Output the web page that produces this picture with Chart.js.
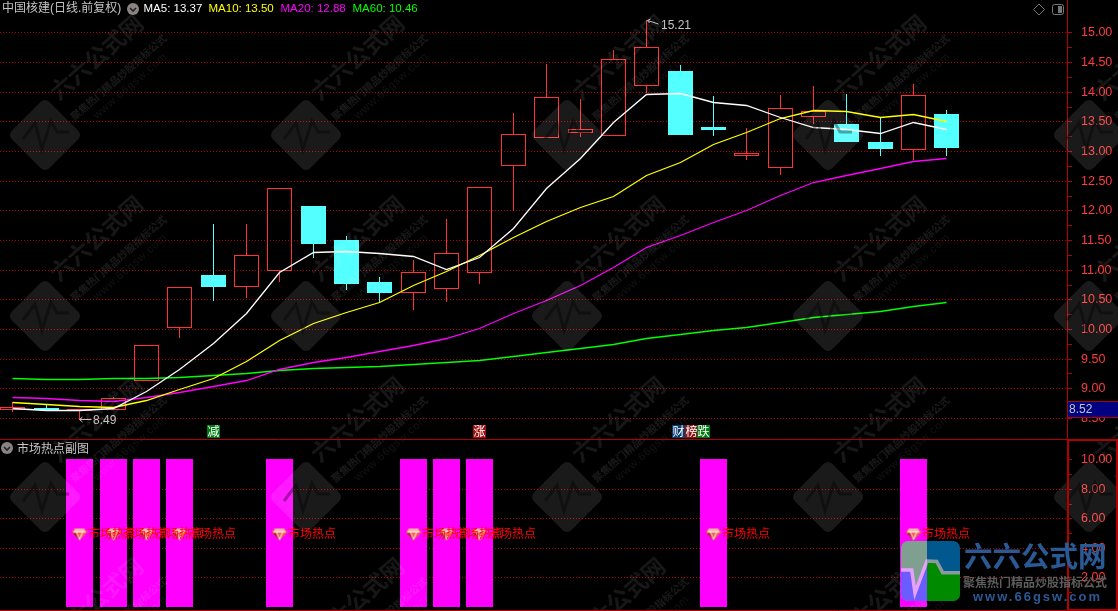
<!DOCTYPE html>
<html><head><meta charset="utf-8">
<style>html,body{margin:0;padding:0;background:#000;overflow:hidden}canvas{display:block}</style>
<script src="https://cdn.jsdelivr.net/npm/chart.js@4"></script>
</head><body><canvas id="c" width="1118" height="611"></canvas>
<script>
// ---------- data ----------
const opens  = [8.64,8.66,8.61,8.63,9.13,10.01,10.91,10.70,10.98,12.07,11.50,10.79,10.61,10.68,10.94,12.75,13.22,13.30,13.26,14.09,14.35,13.41,12.92,12.71,13.58,13.46,13.15,13.02,13.63];
const closes = [8.68,8.63,8.65,8.83,9.73,10.70,10.71,11.24,12.37,11.43,10.76,10.61,10.96,11.28,12.40,13.28,13.92,13.37,14.55,14.75,13.27,13.36,12.97,13.72,13.67,13.16,13.04,13.94,13.05];
const highs  = [8.77,8.74,8.65,8.85,9.73,10.70,11.77,11.77,12.37,12.07,11.57,10.88,11.16,11.85,12.40,13.64,14.47,13.88,14.70,15.21,14.45,13.93,13.39,13.95,14.10,13.96,13.58,14.13,13.69];
const lows   = [8.60,8.63,8.49,8.63,9.13,9.85,10.48,10.53,10.80,11.20,10.66,10.44,10.32,10.46,10.76,11.99,13.22,13.24,13.26,13.98,13.27,13.25,12.85,12.59,13.46,13.16,12.91,12.85,12.91];
const ma5  = [8.67,8.63,8.63,8.67,8.95,9.33,9.76,10.27,10.96,11.30,11.32,11.28,11.23,11.01,11.21,11.70,12.38,12.88,13.49,13.96,13.98,13.83,13.78,13.58,13.41,13.37,13.31,13.49,13.37];
const ma10 = [8.77,8.74,8.70,8.69,8.80,8.99,9.17,9.46,9.81,10.10,10.29,10.46,10.74,10.98,11.25,11.55,11.82,12.06,12.24,12.60,12.82,13.12,13.32,13.56,13.69,13.68,13.58,13.63,13.50];
const ma20 = [8.85,8.84,8.80,8.79,8.85,8.94,9.04,9.14,9.33,9.44,9.53,9.63,9.73,9.85,10.02,10.27,10.49,10.74,11.05,11.38,11.59,11.80,12.01,12.26,12.48,12.60,12.72,12.84,12.88];
const ma60 = [9.17,9.16,9.16,9.17,9.17,9.19,9.22,9.26,9.31,9.34,9.36,9.38,9.41,9.44,9.48,9.54,9.61,9.68,9.75,9.85,9.92,9.98,10.03,10.12,10.20,10.25,10.30,10.39,10.46];
const hotIndex = [2,3,4,5,8,12,13,14,21,27];
const hotBarTop = 10;
const hotLabelLevel = 4.95;
const priceTicks = [15,14.5,14,13.5,13,12.5,12,11.5,11,10.5,10,9.5,9,8.5];
const subLabelTicks = [10,8,6,4,2];
const subGridTicks = [8,6,4,2];
const headerTexts = ["MA5: 13.37","MA10: 13.50","MA20: 12.88","MA60: 10.46"];
const currentPrice = 8.52;
const tagIndex = [6,14,20.33];
const tagChars = [["减"],["涨"],["财","榜","跌"]];
const tagColors = [["#007a10"],["#a01010"],["#0a3c70","#8c1414","#007a10"]];

// ---------- styles ----------
const RED="#ff3232", CYAN="#54ffff", GRID="#b40000", AXIS="#b00000", LABEL="#ff3c3c", GRAY="#c4c4c4";
const CJK="'Liberation Sans','Noto Sans CJK SC',sans-serif";

class SnapScale extends Chart.LinearScale{
  static id='snap';
  static defaults=Chart.LinearScale.defaults;
  getPixelForValue(v){
    const p=super.getPixelForValue(v);
    return this.axis==='x'?Math.floor(p)+0.5:Math.round(p);
  }
}
Chart.register(SnapScale);

const idx=opens.map((_,i)=>i);
const up=i=>closes[i]>=opens[i];
const candleColor=idx.map(i=>up(i)?RED:CYAN);
const bodies=idx.map(i=>({x:i,y:[opens[i],closes[i]]}));
const upperWick=idx.map(i=>({x:i,y:[Math.max(opens[i],closes[i]),highs[i]]}));
const lowerWick=idx.map(i=>({x:i,y:[lows[i],Math.min(opens[i],closes[i])]}));
const line=(a,c,l)=>({type:'line',label:l,data:a.map((v,i)=>({x:i,y:v})),borderColor:c,borderWidth:1.3,pointRadius:0,tension:0,yAxisID:'y',order:1});

// gem sprite
const gem=document.createElement('canvas');gem.width=16;gem.height=13;
(function(){const g=gem.getContext('2d');
  g.fillStyle='#f0605a';g.beginPath();g.moveTo(3.5,1);g.lineTo(12.5,1);g.lineTo(16,4.5);g.lineTo(8,13);g.lineTo(0,4.5);g.closePath();g.fill();
  g.fillStyle='#ffb4a8';g.beginPath();g.moveTo(3.5,1);g.lineTo(12.5,1);g.lineTo(14,4);g.lineTo(2,4);g.closePath();g.fill();
  g.strokeStyle='#fff2e8';g.lineWidth=1;g.beginPath();g.moveTo(2,4.5);g.lineTo(14,4.5);g.moveTo(5,5);g.lineTo(8,12);g.lineTo(11,5);g.stroke();
  g.fillStyle='#a02828';g.beginPath();g.moveTo(1,5.5);g.lineTo(4.5,5.5);g.lineTo(7.5,12);g.closePath();g.fill();
})();

function text(ctx,s,x,y,font,color,align){ctx.font=font;ctx.fillStyle=color;ctx.textAlign=align||'left';ctx.textBaseline='middle';ctx.fillText(s,x,y);}
function rr(ctx,x,y,w,h,r){ctx.beginPath();ctx.roundRect(x,y,w,h,r);}
function chevron(ctx,x,y){ctx.fillStyle='#8c8484';ctx.beginPath();ctx.arc(x,y,6,0,Math.PI*2);ctx.fill();
  ctx.strokeStyle='#222';ctx.lineWidth=1.6;ctx.beginPath();ctx.moveTo(x-3,y-1);ctx.lineTo(x,y+2);ctx.lineTo(x+3,y-1);ctx.stroke();}

const lineNudge={id:'lineNudge',
  beforeDatasetDraw(chart,a){if(chart.getDatasetMeta(a.index).type==='line'){chart.ctx.save();chart.ctx.translate(0,0.5);}},
  afterDatasetDraw(chart,a){if(chart.getDatasetMeta(a.index).type==='line'){chart.ctx.restore();}}
};

const watermark={id:'watermark',afterDatasetsDraw(chart){
  const ctx=chart.ctx;
  for(let cx=45;cx<1200;cx+=261){for(let cy=-46;cy<700;cy+=181){
    ctx.save();ctx.translate(cx,cy);
    ctx.save();ctx.rotate(Math.PI/4);ctx.fillStyle='rgba(255,255,255,0.1)';rr(ctx,-26.5,-26.5,53,53,6);ctx.fill();ctx.restore();
    ctx.strokeStyle='rgba(0,0,0,0.35)';ctx.lineWidth=3;ctx.beginPath();
    ctx.moveTo(-22,4);ctx.lineTo(-10,-12);ctx.lineTo(-3,14);ctx.lineTo(6,-14);ctx.lineTo(12,-3);ctx.lineTo(24,-3);ctx.stroke();
    ctx.save();ctx.translate(8,-40);ctx.rotate(-0.72);
    text(ctx,"六六公式网",0,0,"bold 23px 'Noto Sans CJK SC'",'rgba(255,255,255,0.09)');ctx.restore();
    ctx.save();ctx.translate(27,-17);ctx.rotate(-0.72);
    text(ctx,"聚焦热门精品炒股指标公式",0,0,"bold 10.3px 'Noto Sans CJK SC'",'rgba(255,255,255,0.1)');ctx.restore();
    ctx.save();ctx.translate(50,-18);ctx.rotate(-0.72);ctx.letterSpacing='1px';
    text(ctx,"www.66gsw.com",0,0,"11px 'Liberation Sans'",'rgba(255,255,255,0.07)');ctx.letterSpacing='0px';ctx.restore();
    ctx.restore();
  }}
}};

const overlay={id:'overlay',afterDraw(chart){
  const ctx=chart.ctx,X=chart.scales.x,Y=chart.scales.y,Y2=chart.scales.y2;
  ctx.save();
  // hot labels
  hotIndex.forEach(i=>text(ctx,"市场热点",X.getPixelForValue(i)+8.5,Y2.getPixelForValue(hotLabelLevel)-1,"12px 'Noto Sans CJK SC'","#ff0000"));
  // frames
  ctx.strokeStyle=AXIS;ctx.lineWidth=1;
  ctx.beginPath();ctx.moveTo(0,439.5);ctx.lineTo(1118,439.5);ctx.moveTo(0,610.5);ctx.lineTo(1118,610.5);ctx.stroke();
  ctx.lineWidth=2;ctx.strokeRect(1068,440,49,170);
  // header
  text(ctx,"中国核建(日线.前复权)",2,9,"12px "+CJK,GRAY);
  chevron(ctx,133,9);
  const hx=[143.5,208.5,280.5,352.5],hc=["#ffffff","#ffff00","#ff00ff","#00ff00"];
  headerTexts.forEach((s,i)=>text(ctx,s,hx[i],9,"11.5px 'Liberation Sans'",hc[i]));
  chevron(ctx,7,448);
  text(ctx,"市场热点副图",17,448,"12px 'Noto Sans CJK SC'",GRAY);
  // right icons
  ctx.strokeStyle='#777';ctx.lineWidth=1;ctx.beginPath();ctx.moveTo(1039,4);ctx.lineTo(1044.5,9.5);ctx.lineTo(1039,15);ctx.lineTo(1033.5,9.5);ctx.closePath();ctx.stroke();
  rr(ctx,1052.5,4.5,11,10,2);ctx.stroke();ctx.fillStyle='#777';ctx.fillRect(1058,6,4,7);
  // hi/lo annotations
  const hx1=X.getPixelForValue(19),hy=Y.getPixelForValue(Math.max(...highs));
  ctx.strokeStyle=GRAY;ctx.beginPath();ctx.moveTo(hx1+1,hy+0.5);ctx.lineTo(hx1+12,hy+4);ctx.moveTo(hx1+4,hy-1);ctx.lineTo(hx1+1,hy+0.5);ctx.lineTo(hx1+3,hy+3);ctx.stroke();
  text(ctx,Math.max(...highs).toFixed(2),hx1+14.5,hy+6,"12px 'Liberation Sans'",GRAY);
  const lx=X.getPixelForValue(2),ly=Y.getPixelForValue(Math.min(...lows));
  ctx.beginPath();ctx.moveTo(lx,ly+0.5);ctx.lineTo(lx+12,ly+0.5);ctx.moveTo(lx+3,ly-2);ctx.lineTo(lx,ly+0.5);ctx.lineTo(lx+3,ly+3);ctx.stroke();
  text(ctx,Math.min(...lows).toFixed(2),lx+13.5,ly+2,"12px 'Liberation Sans'",GRAY);
  // tags
  tagIndex.forEach((t,k)=>{const n=tagChars[k].length,cx=X.getPixelForValue(t);
    tagChars[k].forEach((ch,j)=>{const x=Math.round(cx-6.5*n+12.5*j);
      ctx.fillStyle=tagColors[k][j];ctx.fillRect(x,425,13,13);
      text(ctx,ch,x+6.5,431.5,"12px 'Noto Sans CJK SC'","#ffffff",'center');});});
  // current price box
  const by=Y.getPixelForValue(currentPrice);
  ctx.fillStyle='#000080';ctx.fillRect(1068,by-15,50,15);
  ctx.strokeStyle=AXIS;ctx.lineWidth=1;ctx.beginPath();ctx.moveTo(1068,by-15.5);ctx.lineTo(1118,by-15.5);ctx.moveTo(1068,by+0.5);ctx.lineTo(1118,by+0.5);ctx.stroke();
  text(ctx,currentPrice.toFixed(2),1069,by-7,"12px 'Liberation Sans'",GRAY);
  // bottom right logo
  ctx.save();rr(ctx,901,541,59,60,7);ctx.clip();
  const pts=[[901,570],[911.7,570],[915,593],[927,561],[936.7,561.5],[942.7,572.7],[960,572.7]];
  const band=(x0,x1,top,bot,pulse)=>{ctx.save();ctx.beginPath();ctx.rect(x0,541,x1-x0,60);ctx.clip();
    ctx.fillStyle=top;ctx.fillRect(x0,541,x1-x0,60);
    ctx.fillStyle=bot;ctx.beginPath();ctx.moveTo(901,601);pts.forEach(p=>ctx.lineTo(p[0],p[1]));ctx.lineTo(960,601);ctx.closePath();ctx.fill();
    ctx.strokeStyle=pulse;ctx.lineWidth=3.5;ctx.beginPath();pts.forEach((p,i)=>i?ctx.lineTo(p[0],p[1]):ctx.moveTo(p[0],p[1]));ctx.stroke();ctx.restore();};
  band(901,927,'#7f9f90','#6a5cff','#e8a0ff');
  band(927,960,'#00588e','#008a00','#8a9aa0');
  ctx.restore();
  text(ctx,"六六公式网",964,556,"bold 28.5px 'Noto Sans CJK SC'","#2a5a96");
  text(ctx,"聚焦热门精品炒股指标公式",963,582,"bold 12px 'Noto Sans CJK SC'","#5c5c5c");
  ctx.letterSpacing='2px';text(ctx,"www.66gsw.com",973,597,"bold 13px 'Liberation Sans'","#2a5a96");ctx.letterSpacing='0px';
  ctx.restore();
}};

const inList=(list,v)=>list.some(t=>Math.abs(t-v)<1e-6);
const fitAxis=s=>{s.width=51;s.paddingTop=0;s.paddingBottom=0;};
const isStep=(v,n)=>Math.abs(v*n-Math.round(v*n))<1e-6;
const NONE='rgba(0,0,0,0)';

new Chart(document.getElementById('c'),{
  data:{datasets:[
    line(ma5,'#ffffff','MA5'),line(ma10,'#ffff00','MA10'),line(ma20,'#ff00ff','MA20'),line(ma60,'#00ff00','MA60'),
    {type:'bar',label:'body',data:bodies,backgroundColor:idx.map(i=>up(i)?NONE:CYAN),borderColor:candleColor,borderWidth:1,borderSkipped:false,barThickness:25,grouped:false,inflateAmount:0,yAxisID:'y',order:3},
    {type:'bar',label:'high',data:upperWick,backgroundColor:candleColor,borderWidth:0,barThickness:1,grouped:false,inflateAmount:0,yAxisID:'y',order:4},
    {type:'bar',label:'low',data:lowerWick,backgroundColor:candleColor,borderWidth:0,barThickness:1,grouped:false,inflateAmount:0,yAxisID:'y',order:4},
    {type:'bar',label:'hot',data:hotIndex.map(i=>({x:i,y:[0,hotBarTop]})),backgroundColor:'#ff00ff',borderWidth:0,barThickness:27,grouped:false,inflateAmount:0,yAxisID:'y2',order:5},
    {type:'scatter',label:'gem',data:hotIndex.map(i=>({x:i,y:hotLabelLevel})),pointStyle:gem,pointRadius:8,yAxisID:'y2',order:1}
  ]},
  options:{
    responsive:false,animation:false,events:[],
    layout:{padding:0,autoPadding:false},
    plugins:{legend:{display:false},tooltip:{enabled:false},title:{display:false}},
    scales:{
      x:{type:'snap',display:false,offset:false,min:-0.3897,max:31.6,grid:{display:false}},
      y:{type:'snap',position:'right',stack:'r',stackWeight:439,min:8.145,max:15.548,weight:1,
        afterFit:fitAxis,
        border:{color:AXIS,width:1,dash:[1,2]},
        grid:{color:c=>inList(priceTicks,c.tick.value)?GRID:NONE,tickColor:c=>(c.tick.value<=15&&isStep(c.tick.value,4))?AXIS:NONE,tickLength:5,lineWidth:1},
        ticks:{stepSize:0.25,autoSkip:false,maxRotation:0,padding:9,labelOffset:1,color:LABEL,font:{family:'Liberation Sans',size:12.5},
          callback:v=>inList(priceTicks,v)?v.toFixed(2):''}
      },
      y2:{type:'snap',position:'right',stack:'r',stackWeight:172,min:-0.306,max:11.39,weight:2,
        afterFit:fitAxis,
        border:{color:AXIS,width:1,dash:[1,2]},
        grid:{color:c=>inList(subGridTicks,c.tick.value)?GRID:NONE,tickColor:c=>(c.tick.value<=10&&c.tick.value>=1&&isStep(c.tick.value,1))?AXIS:NONE,tickLength:5,lineWidth:1},
        ticks:{stepSize:1,autoSkip:false,maxRotation:0,padding:9,labelOffset:1,color:LABEL,font:{family:'Liberation Sans',size:12.5},
          callback:v=>inList(subLabelTicks,v)?v.toFixed(2):''}
      }
    }
  },
  plugins:[lineNudge,watermark,overlay]
});
</script></body></html>
